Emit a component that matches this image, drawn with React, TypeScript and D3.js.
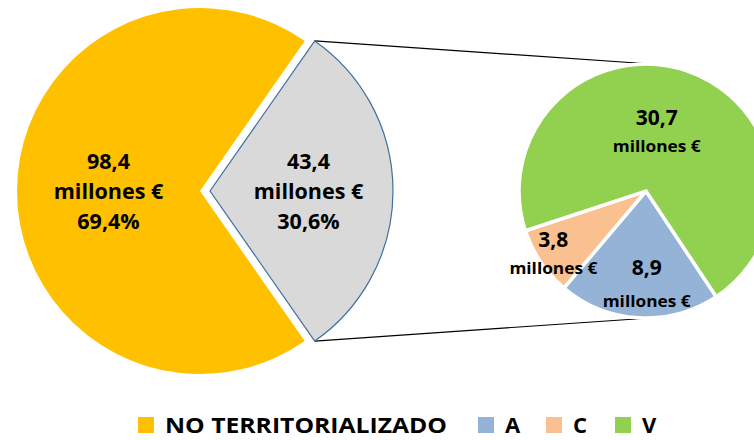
import React from "react";
import * as d3 from "d3";

const mainLabels = ["NO TERRITORIALIZADO", "Territorializado"];
const mainValues = [98.4, 43.4];
const subLabels = ["A", "C", "V"];
const subValues = [8.9, 3.8, 30.7];
const legendLabels = ["NO TERRITORIALIZADO", "A", "C", "V"];

const W = 754;
const H = 440;
const FONT = "'Open Sans', 'Noto Sans', sans-serif";

const colors: Record<string, string> = {
  "NO TERRITORIALIZADO": "#FFC000",
  Territorializado: "#D9D9D9",
  A: "#95B3D7",
  C: "#FAC090",
  V: "#92D050",
};

const fmt = (v: number) => d3.format(".1f")(v).replace(".", ",");
const fmtPct = (v: number) => d3.format(".1%")(v).replace(".", ",");
const deg = Math.PI / 180;

export default function App() {
  const total = d3.sum(mainValues);
  const bigR = 183;
  const bigC = [200, 191];
  const explode = 10;
  const grayAngle = (mainValues[1] / total) * 2 * Math.PI;
  const mainPie = d3
    .pie<number>()
    .sort(null)
    .startAngle(Math.PI / 2 + grayAngle / 2)
    .endAngle(Math.PI / 2 + grayAngle / 2 + 2 * Math.PI);
  const mainArcs = mainPie(mainValues);
  const bigArc = d3.arc<d3.PieArcDatum<number>>().innerRadius(0).outerRadius(bigR);

  const smallR = 127;
  const smallC = [646, 191];
  const subStart = 146.4 * deg;
  const subPie = d3.pie<number>().sort(null).startAngle(subStart).endAngle(subStart + 2 * Math.PI);
  const subArcs = subPie(subValues);
  const smallArc = d3.arc<d3.PieArcDatum<number>>().innerRadius(0).outerRadius(smallR);
  const subTotal = d3.sum(subValues);

  // gray slice (exploded)
  const g = mainArcs[1];
  const gMid = (g.startAngle + g.endAngle) / 2;
  const gx = bigC[0] + explode * Math.sin(gMid);
  const gy = bigC[1] - explode * Math.cos(gMid);
  const pTop = [gx + bigR * Math.sin(g.startAngle), gy - bigR * Math.cos(g.startAngle)];
  const pBot = [gx + bigR * Math.sin(g.endAngle), gy - bigR * Math.cos(g.endAngle)];

  const lineH = 30;
  const legendX = [138, 478, 546, 615];

  return (
    <svg width={W} height={H} style={{ position: "absolute", left: 0, top: 0 }} fontFamily={FONT}>
      <rect width={W} height={H} fill="#fff" />
      {/* connector lines */}
      <line x1={pTop[0]} y1={pTop[1]} x2={smallC[0] + 5} y2={smallC[1] - smallR} stroke="#000" strokeWidth={1.2} />
      <line x1={pBot[0]} y1={pBot[1]} x2={smallC[0] + 4} y2={smallC[1] + smallR} stroke="#000" strokeWidth={1.2} />
      {/* big pie */}
      {mainArcs.map((a, i) => {
        const isGray = i === 1;
        const cx = isGray ? gx : bigC[0];
        const cy = isGray ? gy : bigC[1];
        const [lx, ly] = bigArc.centroid(a);
        const lines = [fmt(mainValues[i]), "millones €", fmtPct(mainValues[i] / total)];
        return (
          <g key={i} transform={`translate(${cx},${cy})`}>
            <path
              d={bigArc(a) || ""}
              fill={colors[mainLabels[i]]}
              stroke={isGray ? "#41719C" : "none"}
              strokeWidth={isGray ? 1.2 : 0}
            />
            {lines.map((t, j) => (
              <text
                key={j}
                x={lx + (isGray ? 7 : 0)}
                y={ly + (j - 1) * lineH + 8}
                textAnchor="middle"
                fontWeight="bold"
                fontSize={21.5}
                fill="#000"
              >
                {t}
              </text>
            ))}
          </g>
        );
      })}
      {/* small pie */}
      <g transform={`translate(${smallC[0]},${smallC[1]})`}>
        {subArcs.map((a, i) => (
          <path key={i} d={smallArc(a) || ""} fill={colors[subLabels[i]]} stroke="#fff" strokeWidth={3.5} />
        ))}
        {subArcs.map((a, i) => {
          const frac = subValues[i] / subTotal;
          const k = frac > 0.5 ? 0.5 : frac < 0.15 ? 0.88 : 0.73;
          const lr = k * smallR;
          const mid = (a.startAngle + a.endAngle) / 2;
          const lx = lr * Math.sin(mid) - (frac > 0.5 ? 10 : 0) + (frac > 0.15 && frac < 0.5 ? 6 : 0);
          const ly = -lr * Math.cos(mid);
          const gap = frac > 0.15 && frac < 0.5 ? 34 : 29;
          return (
            <g key={i}>
              <text x={lx} y={ly - gap / 2 + 8} textAnchor="middle" fontWeight="bold" fontSize={21} fill="#000">
                {fmt(subValues[i])}
              </text>
              <text
                x={lx}
                y={ly + gap / 2 + 6}
                textAnchor="middle"
                fontWeight="bold"
                fontSize={16.5}
                fill="#000"
                textLength={88}
                lengthAdjust="spacingAndGlyphs"
              >
                millones €
              </text>
            </g>
          );
        })}
      </g>
      {/* legend */}
      {legendLabels.map((l, i) => (
        <g key={l}>
          <rect x={legendX[i]} y={417} width={16} height={16} fill={colors[l]} />
          <text
            x={legendX[i] + 27}
            y={433}
            fontWeight="bold"
            fontSize={22}
            fill="#000"
            {...(l.length > 3 ? { textLength: 282, lengthAdjust: "spacingAndGlyphs" } : {})}
          >
            {l}
          </text>
        </g>
      ))}
    </svg>
  );
}
